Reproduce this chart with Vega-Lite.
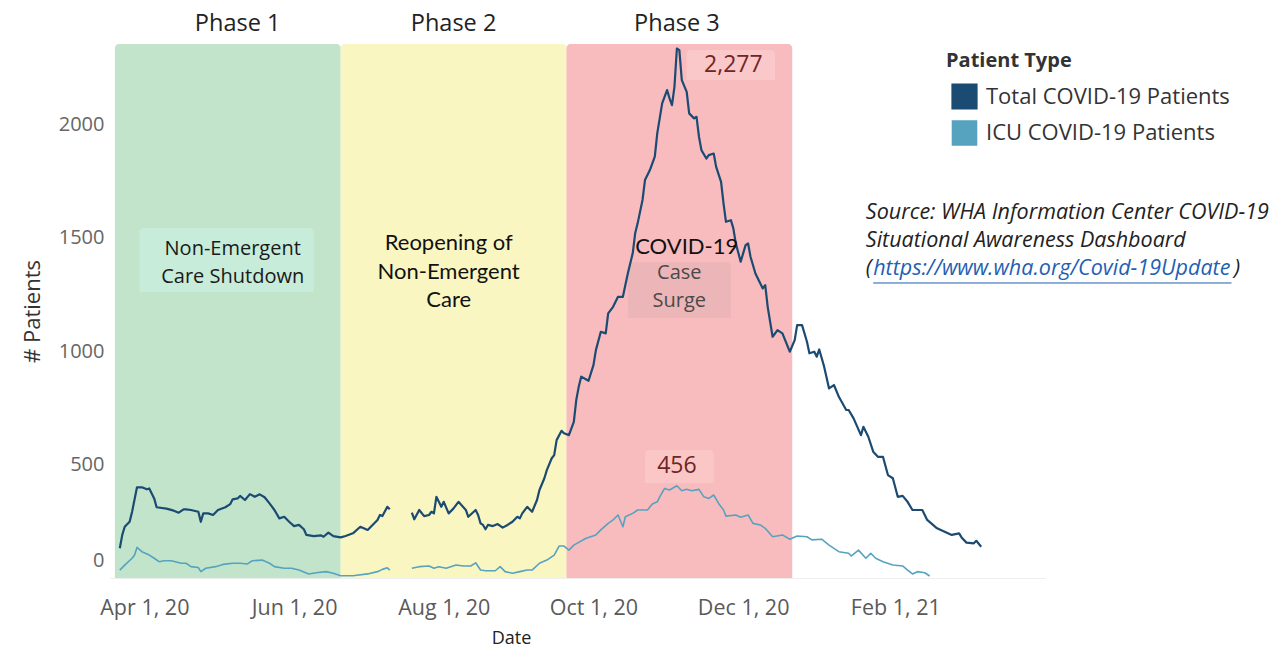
{
  "$schema": "https://vega.github.io/schema/vega-lite/v6.json",
  "autosize": "none",
  "width": 935,
  "height": 534,
  "padding": {"left": 110, "top": 44, "right": 236, "bottom": 72},
  "background": "white",
  "config": {"view": {"stroke": null}, "font": "Open Sans"},
  "encoding": {
    "x": {
      "field": "date", "type": "temporal",
      "scale": {"type": "utc", "nice": false, "domain": [{"year": 2020, "month": 3, "date": 18, "utc": true}, {"year": 2021, "month": 4, "date": 3, "utc": true}]},
      "axis": {
        "title": "Date", "titleFont": "Open Sans", "titleFontSize": 18, "titleFontWeight": "normal", "titleColor": "#222",
        "titleX": 401, "titleY": 60, "titleAlign": "center", "titleBaseline": "middle",
        "values": [
          {"year": 2020, "month": 4, "date": 1, "utc": true},
          {"year": 2020, "month": 6, "date": 1, "utc": true},
          {"year": 2020, "month": 8, "date": 1, "utc": true},
          {"year": 2020, "month": 10, "date": 1, "utc": true},
          {"year": 2020, "month": 12, "date": 1, "utc": true},
          {"year": 2021, "month": 2, "date": 1, "utc": true}
        ],
        "format": "%b %-d, %y", "labelFont": "Open Sans", "labelFontSize": 21.5, "labelColor": "#5a5a5a",
        "labelPadding": 19, "ticks": false, "grid": false, "domainColor": "#eeeeee", "domainWidth": 1, "labelFlush": false, "labelOverlap": false
      }
    },
    "y": {
      "field": "value", "type": "quantitative",
      "scale": {"domain": [0, 2355], "nice": false, "zero": true},
      "axis": {
        "title": "# Patients", "titleFont": "Open Sans", "titleFontSize": 22, "titleFontWeight": "normal", "titleColor": "#333", "titlePadding": 14,
        "values": [0, 500, 1000, 1500, 2000], "format": "d",
        "labelFont": "Open Sans", "labelFontSize": 20, "labelColor": "#666", "labelPadding": 6,
        "labelOffset": {"condition": {"test": "datum.value === 0", "value": -18}, "value": 0},
        "ticks": false, "grid": false, "domain": false
      }
    }
  },
  "layer": [
    {
      "data": {"values": [
        {"date": "2020-03-20", "end": "2020-06-20", "value": 2355, "bottom": 0, "kind": "Phase 1"},
        {"date": "2020-06-20", "end": "2020-09-20", "value": 2355, "bottom": 0, "kind": "Phase 2"},
        {"date": "2020-09-20", "end": "2020-12-21", "value": 2355, "bottom": 0, "kind": "Phase 3"},
        {"date": "2020-03-30", "end": "2020-06-09", "value": 1543, "bottom": 1261, "kind": "box1"},
        {"date": "2020-10-15", "end": "2020-11-26", "value": 1393, "bottom": 1147, "kind": "box2"},
        {"date": "2020-11-08", "end": "2020-12-14", "value": 2328, "bottom": 2196, "kind": "box3"},
        {"date": "2020-10-22", "end": "2020-11-19", "value": 564, "bottom": 419, "kind": "box4"}
      ]},
      "mark": {"type": "rect", "cornerRadiusTopLeft": 4, "cornerRadiusTopRight": 4},
      "encoding": {
        "x2": {"field": "end"},
        "y2": {"field": "bottom"},
        "fill": {"field": "kind", "type": "nominal", "legend": null,
          "scale": {"domain": ["Phase 1", "Phase 2", "Phase 3", "box1", "box2", "box3", "box4"],
                    "range": ["#c2e4cb", "#faf6c1", "#f8bcbe", "#c7ecd9", "#ecb5b7", "#fbc8c9", "#fac7c6"]}}
      }
    },
    {
      "data": {"values": [
        {"date": "2020-03-22", "value": 131, "type": "Total COVID-19 Patients", "seg": 1},
        {"date": "2020-03-23", "value": 190, "type": "Total COVID-19 Patients", "seg": 1},
        {"date": "2020-03-24", "value": 226, "type": "Total COVID-19 Patients", "seg": 1},
        {"date": "2020-03-26", "value": 248, "type": "Total COVID-19 Patients", "seg": 1},
        {"date": "2020-03-27", "value": 292, "type": "Total COVID-19 Patients", "seg": 1},
        {"date": "2020-03-29", "value": 400, "type": "Total COVID-19 Patients", "seg": 1},
        {"date": "2020-03-31", "value": 400, "type": "Total COVID-19 Patients", "seg": 1},
        {"date": "2020-04-02", "value": 391, "type": "Total COVID-19 Patients", "seg": 1},
        {"date": "2020-04-03", "value": 395, "type": "Total COVID-19 Patients", "seg": 1},
        {"date": "2020-04-05", "value": 351, "type": "Total COVID-19 Patients", "seg": 1},
        {"date": "2020-04-06", "value": 312, "type": "Total COVID-19 Patients", "seg": 1},
        {"date": "2020-04-10", "value": 306, "type": "Total COVID-19 Patients", "seg": 1},
        {"date": "2020-04-13", "value": 297, "type": "Total COVID-19 Patients", "seg": 1},
        {"date": "2020-04-15", "value": 288, "type": "Total COVID-19 Patients", "seg": 1},
        {"date": "2020-04-17", "value": 303, "type": "Total COVID-19 Patients", "seg": 1},
        {"date": "2020-04-18", "value": 303, "type": "Total COVID-19 Patients", "seg": 1},
        {"date": "2020-04-20", "value": 300, "type": "Total COVID-19 Patients", "seg": 1},
        {"date": "2020-04-23", "value": 292, "type": "Total COVID-19 Patients", "seg": 1},
        {"date": "2020-04-24", "value": 248, "type": "Total COVID-19 Patients", "seg": 1},
        {"date": "2020-04-25", "value": 285, "type": "Total COVID-19 Patients", "seg": 1},
        {"date": "2020-04-27", "value": 285, "type": "Total COVID-19 Patients", "seg": 1},
        {"date": "2020-04-29", "value": 278, "type": "Total COVID-19 Patients", "seg": 1},
        {"date": "2020-05-01", "value": 300, "type": "Total COVID-19 Patients", "seg": 1},
        {"date": "2020-05-04", "value": 312, "type": "Total COVID-19 Patients", "seg": 1},
        {"date": "2020-05-06", "value": 326, "type": "Total COVID-19 Patients", "seg": 1},
        {"date": "2020-05-07", "value": 347, "type": "Total COVID-19 Patients", "seg": 1},
        {"date": "2020-05-09", "value": 351, "type": "Total COVID-19 Patients", "seg": 1},
        {"date": "2020-05-10", "value": 362, "type": "Total COVID-19 Patients", "seg": 1},
        {"date": "2020-05-12", "value": 344, "type": "Total COVID-19 Patients", "seg": 1},
        {"date": "2020-05-14", "value": 370, "type": "Total COVID-19 Patients", "seg": 1},
        {"date": "2020-05-16", "value": 358, "type": "Total COVID-19 Patients", "seg": 1},
        {"date": "2020-05-18", "value": 369, "type": "Total COVID-19 Patients", "seg": 1},
        {"date": "2020-05-20", "value": 356, "type": "Total COVID-19 Patients", "seg": 1},
        {"date": "2020-05-22", "value": 329, "type": "Total COVID-19 Patients", "seg": 1},
        {"date": "2020-05-24", "value": 300, "type": "Total COVID-19 Patients", "seg": 1},
        {"date": "2020-05-26", "value": 263, "type": "Total COVID-19 Patients", "seg": 1},
        {"date": "2020-05-28", "value": 270, "type": "Total COVID-19 Patients", "seg": 1},
        {"date": "2020-05-30", "value": 248, "type": "Total COVID-19 Patients", "seg": 1},
        {"date": "2020-06-01", "value": 229, "type": "Total COVID-19 Patients", "seg": 1},
        {"date": "2020-06-03", "value": 234, "type": "Total COVID-19 Patients", "seg": 1},
        {"date": "2020-06-05", "value": 215, "type": "Total COVID-19 Patients", "seg": 1},
        {"date": "2020-06-06", "value": 190, "type": "Total COVID-19 Patients", "seg": 1},
        {"date": "2020-06-09", "value": 185, "type": "Total COVID-19 Patients", "seg": 1},
        {"date": "2020-06-12", "value": 188, "type": "Total COVID-19 Patients", "seg": 1},
        {"date": "2020-06-13", "value": 182, "type": "Total COVID-19 Patients", "seg": 1},
        {"date": "2020-06-15", "value": 200, "type": "Total COVID-19 Patients", "seg": 1},
        {"date": "2020-06-17", "value": 185, "type": "Total COVID-19 Patients", "seg": 1},
        {"date": "2020-06-20", "value": 179, "type": "Total COVID-19 Patients", "seg": 1},
        {"date": "2020-06-22", "value": 185, "type": "Total COVID-19 Patients", "seg": 1},
        {"date": "2020-06-25", "value": 197, "type": "Total COVID-19 Patients", "seg": 1},
        {"date": "2020-06-28", "value": 226, "type": "Total COVID-19 Patients", "seg": 1},
        {"date": "2020-07-01", "value": 212, "type": "Total COVID-19 Patients", "seg": 1},
        {"date": "2020-07-03", "value": 234, "type": "Total COVID-19 Patients", "seg": 1},
        {"date": "2020-07-05", "value": 256, "type": "Total COVID-19 Patients", "seg": 1},
        {"date": "2020-07-06", "value": 278, "type": "Total COVID-19 Patients", "seg": 1},
        {"date": "2020-07-07", "value": 273, "type": "Total COVID-19 Patients", "seg": 1},
        {"date": "2020-07-09", "value": 314, "type": "Total COVID-19 Patients", "seg": 1},
        {"date": "2020-07-10", "value": 303, "type": "Total COVID-19 Patients", "seg": 1},
        {"date": "2020-07-19", "value": 288, "type": "Total COVID-19 Patients", "seg": 2},
        {"date": "2020-07-20", "value": 259, "type": "Total COVID-19 Patients", "seg": 2},
        {"date": "2020-07-22", "value": 300, "type": "Total COVID-19 Patients", "seg": 2},
        {"date": "2020-07-24", "value": 273, "type": "Total COVID-19 Patients", "seg": 2},
        {"date": "2020-07-26", "value": 278, "type": "Total COVID-19 Patients", "seg": 2},
        {"date": "2020-07-27", "value": 292, "type": "Total COVID-19 Patients", "seg": 2},
        {"date": "2020-07-28", "value": 285, "type": "Total COVID-19 Patients", "seg": 2},
        {"date": "2020-07-29", "value": 358, "type": "Total COVID-19 Patients", "seg": 2},
        {"date": "2020-07-31", "value": 314, "type": "Total COVID-19 Patients", "seg": 2},
        {"date": "2020-08-01", "value": 336, "type": "Total COVID-19 Patients", "seg": 2},
        {"date": "2020-08-03", "value": 285, "type": "Total COVID-19 Patients", "seg": 2},
        {"date": "2020-08-05", "value": 307, "type": "Total COVID-19 Patients", "seg": 2},
        {"date": "2020-08-07", "value": 336, "type": "Total COVID-19 Patients", "seg": 2},
        {"date": "2020-08-10", "value": 300, "type": "Total COVID-19 Patients", "seg": 2},
        {"date": "2020-08-11", "value": 270, "type": "Total COVID-19 Patients", "seg": 2},
        {"date": "2020-08-14", "value": 300, "type": "Total COVID-19 Patients", "seg": 2},
        {"date": "2020-08-15", "value": 278, "type": "Total COVID-19 Patients", "seg": 2},
        {"date": "2020-08-16", "value": 241, "type": "Total COVID-19 Patients", "seg": 2},
        {"date": "2020-08-17", "value": 234, "type": "Total COVID-19 Patients", "seg": 2},
        {"date": "2020-08-18", "value": 215, "type": "Total COVID-19 Patients", "seg": 2},
        {"date": "2020-08-19", "value": 234, "type": "Total COVID-19 Patients", "seg": 2},
        {"date": "2020-08-21", "value": 229, "type": "Total COVID-19 Patients", "seg": 2},
        {"date": "2020-08-23", "value": 238, "type": "Total COVID-19 Patients", "seg": 2},
        {"date": "2020-08-25", "value": 222, "type": "Total COVID-19 Patients", "seg": 2},
        {"date": "2020-08-27", "value": 234, "type": "Total COVID-19 Patients", "seg": 2},
        {"date": "2020-08-29", "value": 248, "type": "Total COVID-19 Patients", "seg": 2},
        {"date": "2020-08-31", "value": 270, "type": "Total COVID-19 Patients", "seg": 2},
        {"date": "2020-09-01", "value": 263, "type": "Total COVID-19 Patients", "seg": 2},
        {"date": "2020-09-02", "value": 285, "type": "Total COVID-19 Patients", "seg": 2},
        {"date": "2020-09-04", "value": 314, "type": "Total COVID-19 Patients", "seg": 2},
        {"date": "2020-09-06", "value": 292, "type": "Total COVID-19 Patients", "seg": 2},
        {"date": "2020-09-08", "value": 344, "type": "Total COVID-19 Patients", "seg": 2},
        {"date": "2020-09-09", "value": 388, "type": "Total COVID-19 Patients", "seg": 2},
        {"date": "2020-09-11", "value": 440, "type": "Total COVID-19 Patients", "seg": 2},
        {"date": "2020-09-12", "value": 476, "type": "Total COVID-19 Patients", "seg": 2},
        {"date": "2020-09-14", "value": 528, "type": "Total COVID-19 Patients", "seg": 2},
        {"date": "2020-09-15", "value": 542, "type": "Total COVID-19 Patients", "seg": 2},
        {"date": "2020-09-16", "value": 608, "type": "Total COVID-19 Patients", "seg": 2},
        {"date": "2020-09-18", "value": 649, "type": "Total COVID-19 Patients", "seg": 2},
        {"date": "2020-09-19", "value": 638, "type": "Total COVID-19 Patients", "seg": 2},
        {"date": "2020-09-21", "value": 630, "type": "Total COVID-19 Patients", "seg": 2},
        {"date": "2020-09-23", "value": 689, "type": "Total COVID-19 Patients", "seg": 2},
        {"date": "2020-09-24", "value": 785, "type": "Total COVID-19 Patients", "seg": 2},
        {"date": "2020-09-25", "value": 843, "type": "Total COVID-19 Patients", "seg": 2},
        {"date": "2020-09-26", "value": 888, "type": "Total COVID-19 Patients", "seg": 2},
        {"date": "2020-09-29", "value": 870, "type": "Total COVID-19 Patients", "seg": 2},
        {"date": "2020-10-01", "value": 939, "type": "Total COVID-19 Patients", "seg": 2},
        {"date": "2020-10-02", "value": 1005, "type": "Total COVID-19 Patients", "seg": 2},
        {"date": "2020-10-04", "value": 1086, "type": "Total COVID-19 Patients", "seg": 2},
        {"date": "2020-10-06", "value": 1079, "type": "Total COVID-19 Patients", "seg": 2},
        {"date": "2020-10-07", "value": 1167, "type": "Total COVID-19 Patients", "seg": 2},
        {"date": "2020-10-09", "value": 1196, "type": "Total COVID-19 Patients", "seg": 2},
        {"date": "2020-10-11", "value": 1240, "type": "Total COVID-19 Patients", "seg": 2},
        {"date": "2020-10-13", "value": 1240, "type": "Total COVID-19 Patients", "seg": 2},
        {"date": "2020-10-15", "value": 1343, "type": "Total COVID-19 Patients", "seg": 2},
        {"date": "2020-10-17", "value": 1432, "type": "Total COVID-19 Patients", "seg": 2},
        {"date": "2020-10-18", "value": 1520, "type": "Total COVID-19 Patients", "seg": 2},
        {"date": "2020-10-19", "value": 1564, "type": "Total COVID-19 Patients", "seg": 2},
        {"date": "2020-10-21", "value": 1667, "type": "Total COVID-19 Patients", "seg": 2},
        {"date": "2020-10-22", "value": 1755, "type": "Total COVID-19 Patients", "seg": 2},
        {"date": "2020-10-24", "value": 1799, "type": "Total COVID-19 Patients", "seg": 2},
        {"date": "2020-10-26", "value": 1858, "type": "Total COVID-19 Patients", "seg": 2},
        {"date": "2020-10-27", "value": 1961, "type": "Total COVID-19 Patients", "seg": 2},
        {"date": "2020-10-29", "value": 2093, "type": "Total COVID-19 Patients", "seg": 2},
        {"date": "2020-10-31", "value": 2152, "type": "Total COVID-19 Patients", "seg": 2},
        {"date": "2020-11-01", "value": 2115, "type": "Total COVID-19 Patients", "seg": 2},
        {"date": "2020-11-02", "value": 2085, "type": "Total COVID-19 Patients", "seg": 2},
        {"date": "2020-11-03", "value": 2166, "type": "Total COVID-19 Patients", "seg": 2},
        {"date": "2020-11-04", "value": 2335, "type": "Total COVID-19 Patients", "seg": 2},
        {"date": "2020-11-05", "value": 2328, "type": "Total COVID-19 Patients", "seg": 2},
        {"date": "2020-11-06", "value": 2196, "type": "Total COVID-19 Patients", "seg": 2},
        {"date": "2020-11-08", "value": 2144, "type": "Total COVID-19 Patients", "seg": 2},
        {"date": "2020-11-09", "value": 2049, "type": "Total COVID-19 Patients", "seg": 2},
        {"date": "2020-11-11", "value": 2027, "type": "Total COVID-19 Patients", "seg": 2},
        {"date": "2020-11-12", "value": 2034, "type": "Total COVID-19 Patients", "seg": 2},
        {"date": "2020-11-13", "value": 1946, "type": "Total COVID-19 Patients", "seg": 2},
        {"date": "2020-11-14", "value": 1887, "type": "Total COVID-19 Patients", "seg": 2},
        {"date": "2020-11-16", "value": 1850, "type": "Total COVID-19 Patients", "seg": 2},
        {"date": "2020-11-17", "value": 1865, "type": "Total COVID-19 Patients", "seg": 2},
        {"date": "2020-11-19", "value": 1872, "type": "Total COVID-19 Patients", "seg": 2},
        {"date": "2020-11-20", "value": 1813, "type": "Total COVID-19 Patients", "seg": 2},
        {"date": "2020-11-22", "value": 1747, "type": "Total COVID-19 Patients", "seg": 2},
        {"date": "2020-11-23", "value": 1652, "type": "Total COVID-19 Patients", "seg": 2},
        {"date": "2020-11-24", "value": 1571, "type": "Total COVID-19 Patients", "seg": 2},
        {"date": "2020-11-26", "value": 1578, "type": "Total COVID-19 Patients", "seg": 2},
        {"date": "2020-11-27", "value": 1542, "type": "Total COVID-19 Patients", "seg": 2},
        {"date": "2020-11-28", "value": 1476, "type": "Total COVID-19 Patients", "seg": 2},
        {"date": "2020-11-30", "value": 1395, "type": "Total COVID-19 Patients", "seg": 2},
        {"date": "2020-12-02", "value": 1468, "type": "Total COVID-19 Patients", "seg": 2},
        {"date": "2020-12-03", "value": 1476, "type": "Total COVID-19 Patients", "seg": 2},
        {"date": "2020-12-04", "value": 1417, "type": "Total COVID-19 Patients", "seg": 2},
        {"date": "2020-12-06", "value": 1343, "type": "Total COVID-19 Patients", "seg": 2},
        {"date": "2020-12-09", "value": 1277, "type": "Total COVID-19 Patients", "seg": 2},
        {"date": "2020-12-10", "value": 1292, "type": "Total COVID-19 Patients", "seg": 2},
        {"date": "2020-12-11", "value": 1196, "type": "Total COVID-19 Patients", "seg": 2},
        {"date": "2020-12-13", "value": 1064, "type": "Total COVID-19 Patients", "seg": 2},
        {"date": "2020-12-15", "value": 1093, "type": "Total COVID-19 Patients", "seg": 2},
        {"date": "2020-12-17", "value": 1079, "type": "Total COVID-19 Patients", "seg": 2},
        {"date": "2020-12-20", "value": 998, "type": "Total COVID-19 Patients", "seg": 2},
        {"date": "2020-12-22", "value": 1049, "type": "Total COVID-19 Patients", "seg": 2},
        {"date": "2020-12-23", "value": 1115, "type": "Total COVID-19 Patients", "seg": 2},
        {"date": "2020-12-25", "value": 1115, "type": "Total COVID-19 Patients", "seg": 2},
        {"date": "2020-12-27", "value": 1042, "type": "Total COVID-19 Patients", "seg": 2},
        {"date": "2020-12-28", "value": 991, "type": "Total COVID-19 Patients", "seg": 2},
        {"date": "2020-12-30", "value": 998, "type": "Total COVID-19 Patients", "seg": 2},
        {"date": "2020-12-31", "value": 976, "type": "Total COVID-19 Patients", "seg": 2},
        {"date": "2021-01-01", "value": 1008, "type": "Total COVID-19 Patients", "seg": 2},
        {"date": "2021-01-03", "value": 932, "type": "Total COVID-19 Patients", "seg": 2},
        {"date": "2021-01-05", "value": 836, "type": "Total COVID-19 Patients", "seg": 2},
        {"date": "2021-01-07", "value": 851, "type": "Total COVID-19 Patients", "seg": 2},
        {"date": "2021-01-09", "value": 799, "type": "Total COVID-19 Patients", "seg": 2},
        {"date": "2021-01-12", "value": 741, "type": "Total COVID-19 Patients", "seg": 2},
        {"date": "2021-01-13", "value": 741, "type": "Total COVID-19 Patients", "seg": 2},
        {"date": "2021-01-15", "value": 704, "type": "Total COVID-19 Patients", "seg": 2},
        {"date": "2021-01-18", "value": 630, "type": "Total COVID-19 Patients", "seg": 2},
        {"date": "2021-01-19", "value": 667, "type": "Total COVID-19 Patients", "seg": 2},
        {"date": "2021-01-21", "value": 623, "type": "Total COVID-19 Patients", "seg": 2},
        {"date": "2021-01-23", "value": 557, "type": "Total COVID-19 Patients", "seg": 2},
        {"date": "2021-01-25", "value": 534, "type": "Total COVID-19 Patients", "seg": 2},
        {"date": "2021-01-27", "value": 534, "type": "Total COVID-19 Patients", "seg": 2},
        {"date": "2021-01-29", "value": 454, "type": "Total COVID-19 Patients", "seg": 2},
        {"date": "2021-01-31", "value": 440, "type": "Total COVID-19 Patients", "seg": 2},
        {"date": "2021-02-02", "value": 358, "type": "Total COVID-19 Patients", "seg": 2},
        {"date": "2021-02-04", "value": 362, "type": "Total COVID-19 Patients", "seg": 2},
        {"date": "2021-02-06", "value": 336, "type": "Total COVID-19 Patients", "seg": 2},
        {"date": "2021-02-08", "value": 300, "type": "Total COVID-19 Patients", "seg": 2},
        {"date": "2021-02-12", "value": 300, "type": "Total COVID-19 Patients", "seg": 2},
        {"date": "2021-02-14", "value": 256, "type": "Total COVID-19 Patients", "seg": 2},
        {"date": "2021-02-18", "value": 219, "type": "Total COVID-19 Patients", "seg": 2},
        {"date": "2021-02-22", "value": 200, "type": "Total COVID-19 Patients", "seg": 2},
        {"date": "2021-02-24", "value": 190, "type": "Total COVID-19 Patients", "seg": 2},
        {"date": "2021-02-27", "value": 197, "type": "Total COVID-19 Patients", "seg": 2},
        {"date": "2021-02-28", "value": 179, "type": "Total COVID-19 Patients", "seg": 2},
        {"date": "2021-03-02", "value": 156, "type": "Total COVID-19 Patients", "seg": 2},
        {"date": "2021-03-05", "value": 153, "type": "Total COVID-19 Patients", "seg": 2},
        {"date": "2021-03-06", "value": 164, "type": "Total COVID-19 Patients", "seg": 2},
        {"date": "2021-03-08", "value": 138, "type": "Total COVID-19 Patients", "seg": 2},
        {"date": "2020-03-22", "value": 35, "type": "ICU COVID-19 Patients", "seg": 1},
        {"date": "2020-03-24", "value": 57, "type": "ICU COVID-19 Patients", "seg": 1},
        {"date": "2020-03-27", "value": 87, "type": "ICU COVID-19 Patients", "seg": 1},
        {"date": "2020-03-28", "value": 101, "type": "ICU COVID-19 Patients", "seg": 1},
        {"date": "2020-03-29", "value": 135, "type": "ICU COVID-19 Patients", "seg": 1},
        {"date": "2020-03-31", "value": 116, "type": "ICU COVID-19 Patients", "seg": 1},
        {"date": "2020-04-03", "value": 101, "type": "ICU COVID-19 Patients", "seg": 1},
        {"date": "2020-04-05", "value": 87, "type": "ICU COVID-19 Patients", "seg": 1},
        {"date": "2020-04-07", "value": 72, "type": "ICU COVID-19 Patients", "seg": 1},
        {"date": "2020-04-09", "value": 76, "type": "ICU COVID-19 Patients", "seg": 1},
        {"date": "2020-04-12", "value": 76, "type": "ICU COVID-19 Patients", "seg": 1},
        {"date": "2020-04-16", "value": 65, "type": "ICU COVID-19 Patients", "seg": 1},
        {"date": "2020-04-18", "value": 65, "type": "ICU COVID-19 Patients", "seg": 1},
        {"date": "2020-04-20", "value": 50, "type": "ICU COVID-19 Patients", "seg": 1},
        {"date": "2020-04-23", "value": 46, "type": "ICU COVID-19 Patients", "seg": 1},
        {"date": "2020-04-24", "value": 28, "type": "ICU COVID-19 Patients", "seg": 1},
        {"date": "2020-04-26", "value": 43, "type": "ICU COVID-19 Patients", "seg": 1},
        {"date": "2020-04-30", "value": 50, "type": "ICU COVID-19 Patients", "seg": 1},
        {"date": "2020-05-03", "value": 60, "type": "ICU COVID-19 Patients", "seg": 1},
        {"date": "2020-05-07", "value": 65, "type": "ICU COVID-19 Patients", "seg": 1},
        {"date": "2020-05-10", "value": 65, "type": "ICU COVID-19 Patients", "seg": 1},
        {"date": "2020-05-13", "value": 62, "type": "ICU COVID-19 Patients", "seg": 1},
        {"date": "2020-05-15", "value": 76, "type": "ICU COVID-19 Patients", "seg": 1},
        {"date": "2020-05-19", "value": 79, "type": "ICU COVID-19 Patients", "seg": 1},
        {"date": "2020-05-22", "value": 65, "type": "ICU COVID-19 Patients", "seg": 1},
        {"date": "2020-05-24", "value": 50, "type": "ICU COVID-19 Patients", "seg": 1},
        {"date": "2020-05-28", "value": 43, "type": "ICU COVID-19 Patients", "seg": 1},
        {"date": "2020-05-31", "value": 43, "type": "ICU COVID-19 Patients", "seg": 1},
        {"date": "2020-06-03", "value": 35, "type": "ICU COVID-19 Patients", "seg": 1},
        {"date": "2020-06-07", "value": 18, "type": "ICU COVID-19 Patients", "seg": 1},
        {"date": "2020-06-10", "value": 23, "type": "ICU COVID-19 Patients", "seg": 1},
        {"date": "2020-06-14", "value": 28, "type": "ICU COVID-19 Patients", "seg": 1},
        {"date": "2020-06-17", "value": 21, "type": "ICU COVID-19 Patients", "seg": 1},
        {"date": "2020-06-20", "value": 10, "type": "ICU COVID-19 Patients", "seg": 1},
        {"date": "2020-06-25", "value": 10, "type": "ICU COVID-19 Patients", "seg": 1},
        {"date": "2020-07-01", "value": 18, "type": "ICU COVID-19 Patients", "seg": 1},
        {"date": "2020-07-05", "value": 28, "type": "ICU COVID-19 Patients", "seg": 1},
        {"date": "2020-07-07", "value": 38, "type": "ICU COVID-19 Patients", "seg": 1},
        {"date": "2020-07-09", "value": 45, "type": "ICU COVID-19 Patients", "seg": 1},
        {"date": "2020-07-10", "value": 35, "type": "ICU COVID-19 Patients", "seg": 1},
        {"date": "2020-07-19", "value": 43, "type": "ICU COVID-19 Patients", "seg": 2},
        {"date": "2020-07-22", "value": 50, "type": "ICU COVID-19 Patients", "seg": 2},
        {"date": "2020-07-26", "value": 53, "type": "ICU COVID-19 Patients", "seg": 2},
        {"date": "2020-07-28", "value": 43, "type": "ICU COVID-19 Patients", "seg": 2},
        {"date": "2020-07-30", "value": 50, "type": "ICU COVID-19 Patients", "seg": 2},
        {"date": "2020-08-02", "value": 43, "type": "ICU COVID-19 Patients", "seg": 2},
        {"date": "2020-08-06", "value": 57, "type": "ICU COVID-19 Patients", "seg": 2},
        {"date": "2020-08-09", "value": 53, "type": "ICU COVID-19 Patients", "seg": 2},
        {"date": "2020-08-12", "value": 53, "type": "ICU COVID-19 Patients", "seg": 2},
        {"date": "2020-08-14", "value": 67, "type": "ICU COVID-19 Patients", "seg": 2},
        {"date": "2020-08-16", "value": 35, "type": "ICU COVID-19 Patients", "seg": 2},
        {"date": "2020-08-18", "value": 32, "type": "ICU COVID-19 Patients", "seg": 2},
        {"date": "2020-08-22", "value": 32, "type": "ICU COVID-19 Patients", "seg": 2},
        {"date": "2020-08-24", "value": 50, "type": "ICU COVID-19 Patients", "seg": 2},
        {"date": "2020-08-26", "value": 28, "type": "ICU COVID-19 Patients", "seg": 2},
        {"date": "2020-08-29", "value": 21, "type": "ICU COVID-19 Patients", "seg": 2},
        {"date": "2020-09-01", "value": 28, "type": "ICU COVID-19 Patients", "seg": 2},
        {"date": "2020-09-04", "value": 35, "type": "ICU COVID-19 Patients", "seg": 2},
        {"date": "2020-09-06", "value": 35, "type": "ICU COVID-19 Patients", "seg": 2},
        {"date": "2020-09-09", "value": 65, "type": "ICU COVID-19 Patients", "seg": 2},
        {"date": "2020-09-12", "value": 79, "type": "ICU COVID-19 Patients", "seg": 2},
        {"date": "2020-09-15", "value": 101, "type": "ICU COVID-19 Patients", "seg": 2},
        {"date": "2020-09-17", "value": 141, "type": "ICU COVID-19 Patients", "seg": 2},
        {"date": "2020-09-19", "value": 141, "type": "ICU COVID-19 Patients", "seg": 2},
        {"date": "2020-09-21", "value": 123, "type": "ICU COVID-19 Patients", "seg": 2},
        {"date": "2020-09-23", "value": 145, "type": "ICU COVID-19 Patients", "seg": 2},
        {"date": "2020-09-28", "value": 175, "type": "ICU COVID-19 Patients", "seg": 2},
        {"date": "2020-10-02", "value": 190, "type": "ICU COVID-19 Patients", "seg": 2},
        {"date": "2020-10-04", "value": 212, "type": "ICU COVID-19 Patients", "seg": 2},
        {"date": "2020-10-07", "value": 241, "type": "ICU COVID-19 Patients", "seg": 2},
        {"date": "2020-10-09", "value": 256, "type": "ICU COVID-19 Patients", "seg": 2},
        {"date": "2020-10-11", "value": 278, "type": "ICU COVID-19 Patients", "seg": 2},
        {"date": "2020-10-13", "value": 226, "type": "ICU COVID-19 Patients", "seg": 2},
        {"date": "2020-10-14", "value": 270, "type": "ICU COVID-19 Patients", "seg": 2},
        {"date": "2020-10-17", "value": 285, "type": "ICU COVID-19 Patients", "seg": 2},
        {"date": "2020-10-19", "value": 300, "type": "ICU COVID-19 Patients", "seg": 2},
        {"date": "2020-10-23", "value": 300, "type": "ICU COVID-19 Patients", "seg": 2},
        {"date": "2020-10-25", "value": 326, "type": "ICU COVID-19 Patients", "seg": 2},
        {"date": "2020-10-27", "value": 336, "type": "ICU COVID-19 Patients", "seg": 2},
        {"date": "2020-10-28", "value": 358, "type": "ICU COVID-19 Patients", "seg": 2},
        {"date": "2020-10-30", "value": 395, "type": "ICU COVID-19 Patients", "seg": 2},
        {"date": "2020-11-01", "value": 388, "type": "ICU COVID-19 Patients", "seg": 2},
        {"date": "2020-11-04", "value": 407, "type": "ICU COVID-19 Patients", "seg": 2},
        {"date": "2020-11-06", "value": 385, "type": "ICU COVID-19 Patients", "seg": 2},
        {"date": "2020-11-08", "value": 391, "type": "ICU COVID-19 Patients", "seg": 2},
        {"date": "2020-11-10", "value": 385, "type": "ICU COVID-19 Patients", "seg": 2},
        {"date": "2020-11-13", "value": 391, "type": "ICU COVID-19 Patients", "seg": 2},
        {"date": "2020-11-15", "value": 358, "type": "ICU COVID-19 Patients", "seg": 2},
        {"date": "2020-11-17", "value": 351, "type": "ICU COVID-19 Patients", "seg": 2},
        {"date": "2020-11-19", "value": 366, "type": "ICU COVID-19 Patients", "seg": 2},
        {"date": "2020-11-21", "value": 329, "type": "ICU COVID-19 Patients", "seg": 2},
        {"date": "2020-11-23", "value": 300, "type": "ICU COVID-19 Patients", "seg": 2},
        {"date": "2020-11-24", "value": 273, "type": "ICU COVID-19 Patients", "seg": 2},
        {"date": "2020-11-28", "value": 278, "type": "ICU COVID-19 Patients", "seg": 2},
        {"date": "2020-11-30", "value": 268, "type": "ICU COVID-19 Patients", "seg": 2},
        {"date": "2020-12-03", "value": 278, "type": "ICU COVID-19 Patients", "seg": 2},
        {"date": "2020-12-05", "value": 241, "type": "ICU COVID-19 Patients", "seg": 2},
        {"date": "2020-12-08", "value": 234, "type": "ICU COVID-19 Patients", "seg": 2},
        {"date": "2020-12-10", "value": 219, "type": "ICU COVID-19 Patients", "seg": 2},
        {"date": "2020-12-13", "value": 182, "type": "ICU COVID-19 Patients", "seg": 2},
        {"date": "2020-12-17", "value": 190, "type": "ICU COVID-19 Patients", "seg": 2},
        {"date": "2020-12-20", "value": 171, "type": "ICU COVID-19 Patients", "seg": 2},
        {"date": "2020-12-23", "value": 185, "type": "ICU COVID-19 Patients", "seg": 2},
        {"date": "2020-12-27", "value": 182, "type": "ICU COVID-19 Patients", "seg": 2},
        {"date": "2020-12-29", "value": 168, "type": "ICU COVID-19 Patients", "seg": 2},
        {"date": "2021-01-02", "value": 171, "type": "ICU COVID-19 Patients", "seg": 2},
        {"date": "2021-01-05", "value": 145, "type": "ICU COVID-19 Patients", "seg": 2},
        {"date": "2021-01-09", "value": 116, "type": "ICU COVID-19 Patients", "seg": 2},
        {"date": "2021-01-13", "value": 109, "type": "ICU COVID-19 Patients", "seg": 2},
        {"date": "2021-01-14", "value": 97, "type": "ICU COVID-19 Patients", "seg": 2},
        {"date": "2021-01-17", "value": 123, "type": "ICU COVID-19 Patients", "seg": 2},
        {"date": "2021-01-20", "value": 87, "type": "ICU COVID-19 Patients", "seg": 2},
        {"date": "2021-01-22", "value": 109, "type": "ICU COVID-19 Patients", "seg": 2},
        {"date": "2021-01-24", "value": 87, "type": "ICU COVID-19 Patients", "seg": 2},
        {"date": "2021-01-27", "value": 72, "type": "ICU COVID-19 Patients", "seg": 2},
        {"date": "2021-01-31", "value": 57, "type": "ICU COVID-19 Patients", "seg": 2},
        {"date": "2021-02-04", "value": 53, "type": "ICU COVID-19 Patients", "seg": 2},
        {"date": "2021-02-06", "value": 35, "type": "ICU COVID-19 Patients", "seg": 2},
        {"date": "2021-02-08", "value": 18, "type": "ICU COVID-19 Patients", "seg": 2},
        {"date": "2021-02-10", "value": 28, "type": "ICU COVID-19 Patients", "seg": 2},
        {"date": "2021-02-13", "value": 23, "type": "ICU COVID-19 Patients", "seg": 2},
        {"date": "2021-02-15", "value": 9, "type": "ICU COVID-19 Patients", "seg": 2}
      ]},
      "mark": {"type": "line", "strokeJoin": "round"},
      "encoding": {
        "detail": {"field": "seg", "type": "nominal"},
        "color": {
          "field": "type", "type": "nominal",
          "scale": {"domain": ["Total COVID-19 Patients", "ICU COVID-19 Patients"], "range": ["#1b4a72", "#56a3c0"]},
          "legend": {
            "title": "Patient Type", "orient": "none", "legendX": 836, "legendY": 7,
            "titleFont": "Open Sans", "titleFontSize": 20, "titleFontWeight": "bold", "titleColor": "#333", "titlePadding": 12, "titleLimit": 400,
            "labelFont": "Open Sans", "labelFontSize": 22, "labelColor": "#333", "labelOffset": 8, "labelLimit": 400,
            "symbolType": "square", "symbolSize": 576, "symbolStrokeWidth": 0, "symbolOffset": 5, "rowPadding": 4,
            "encode": {"symbols": {"update": {"fill": {"scale": "color", "field": "value"}, "stroke": {"value": "transparent"}, "opacity": {"value": 1}}}}
          }
        },
        "strokeWidth": {
          "field": "type", "type": "nominal", "legend": null,
          "scale": {"domain": ["Total COVID-19 Patients", "ICU COVID-19 Patients"], "range": [2.2, 1.6]}
        }
      }
    },
    {
      "data": {"values": [
        {"date": "2020-05-09", "value": 2443, "label": "Phase 1"},
        {"date": "2020-08-05", "value": 2443, "label": "Phase 2"},
        {"date": "2020-11-04", "value": 2443, "label": "Phase 3"}
      ]},
      "mark": {"type": "text", "font": "Open Sans", "fontSize": 23.5, "color": "#222", "align": "center", "baseline": "middle"},
      "encoding": {"text": {"field": "label"}}
    },
    {
      "data": {"values": [
        {"date": "2020-05-07", "value": 1451, "label": "Non-Emergent"},
        {"date": "2020-05-07", "value": 1327, "label": "Care Shutdown"}
      ]},
      "mark": {"type": "text", "font": "Open Sans", "fontSize": 20, "color": "#1a1a1a", "align": "center", "baseline": "middle"},
      "encoding": {"text": {"field": "label"}}
    },
    {
      "data": {"values": [
        {"date": "2020-08-03", "value": 1477, "label": "Reopening of"},
        {"date": "2020-08-03", "value": 1349, "label": "Non-Emergent"},
        {"date": "2020-08-03", "value": 1226, "label": "Care"},
        {"date": "2020-11-08", "value": 1460, "label": "COVID-19"}
      ]},
      "mark": {"type": "text", "font": "Lato", "fontSize": 22, "color": "#111", "align": "center", "baseline": "middle"},
      "encoding": {"text": {"field": "label"}}
    },
    {
      "data": {"values": [
        {"date": "2020-11-05", "value": 1345, "label": "Case"},
        {"date": "2020-11-05", "value": 1222, "label": "Surge"}
      ]},
      "mark": {"type": "text", "font": "Open Sans", "fontSize": 20, "color": "#4a4a4a", "align": "center", "baseline": "middle"},
      "encoding": {"text": {"field": "label"}}
    },
    {
      "data": {"values": [
        {"date": "2020-11-27", "value": 2262, "label": "2,277"},
        {"date": "2020-11-04", "value": 494, "label": "456"}
      ]},
      "mark": {"type": "text", "font": "Open Sans", "fontSize": 23, "color": "#6e2626", "align": "center", "baseline": "middle"},
      "encoding": {"text": {"field": "label"}}
    },
    {
      "data": {"values": [
        {"date": "2021-01-20", "value": 1610, "label": "Source: WHA Information Center COVID-19"},
        {"date": "2021-01-20", "value": 1486, "label": "Situational Awareness Dashboard"},
        {"date": "2021-01-20", "value": 1363, "label": "("},
        {"date": "2021-06-19", "value": 1363, "label": ")"}
      ]},
      "mark": {"type": "text", "font": "Open Sans", "fontSize": 21.5, "fontStyle": "italic", "color": "#222", "align": "left", "baseline": "middle"},
      "encoding": {"text": {"field": "label"}}
    },
    {
      "data": {"values": [
        {"date": "2021-01-23", "value": 1363, "label": "https://www.wha.org/Covid-19Update"}
      ]},
      "mark": {"type": "text", "font": "Open Sans", "fontSize": 21.5, "fontStyle": "italic", "color": "#1f5fb4", "align": "left", "baseline": "middle"},
      "encoding": {"text": {"field": "label"}}
    },
    {
      "data": {"values": [
        {"date": "2021-01-23", "end": "2021-06-18", "value": 1301}
      ]},
      "mark": {"type": "rule", "color": "#1f5fb4", "strokeWidth": 1},
      "encoding": {"x2": {"field": "end"}}
    }
  ]
}
